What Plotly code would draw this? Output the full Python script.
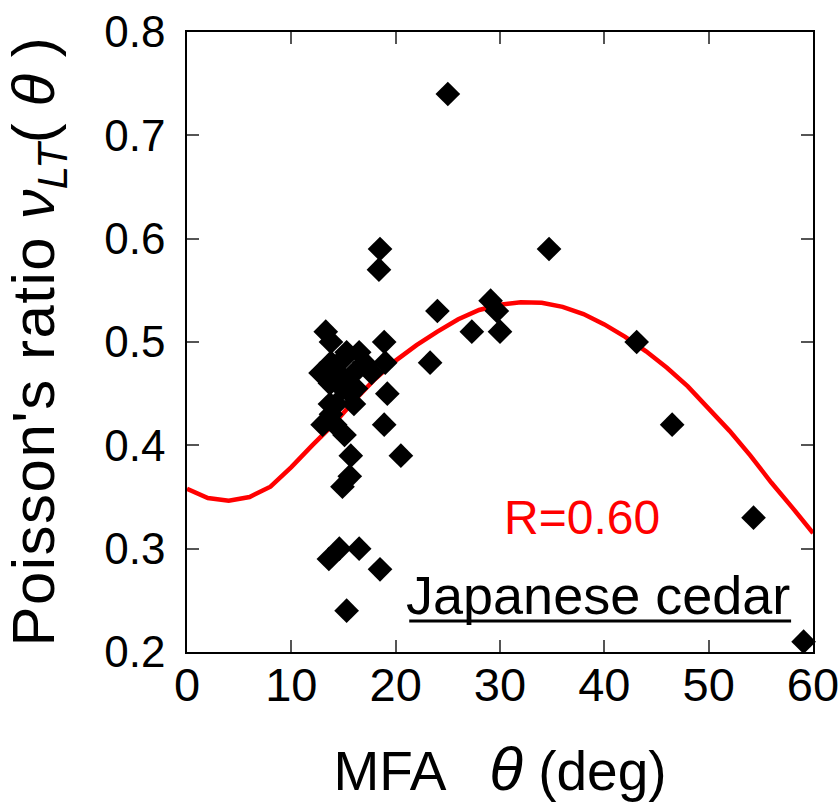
import plotly.graph_objects as go

# Measured points: MFA (deg) and Poisson's ratio
mfa = [25.0, 34.7, 18.5, 18.4, 24.0, 29.1, 29.7, 27.3, 30.0, 23.3,
       43.1, 46.5, 54.3, 59.1, 20.5, 19.2, 18.9, 18.9, 19.0, 18.5,
       16.5, 14.6, 13.6, 15.3,
       13.3, 13.8, 16.5, 17.0, 12.8, 13.8, 15.1, 14.5, 16.0, 15.3,
       15.3, 17.7, 13.7, 14.9, 16.2, 13.7, 14.3, 15.7, 13.0, 13.8,
       15.1, 15.7, 15.6, 14.9, 14.2, 16.0]
nu = [0.74, 0.59, 0.59, 0.57, 0.53, 0.54, 0.53, 0.51, 0.51, 0.48,
      0.50, 0.42, 0.33, 0.21, 0.39, 0.45, 0.42, 0.50, 0.48, 0.28,
      0.30, 0.30, 0.29, 0.24,
      0.51, 0.50, 0.49, 0.48, 0.47, 0.48, 0.485, 0.47, 0.47, 0.46,
      0.49, 0.47, 0.46, 0.455, 0.455, 0.44, 0.44, 0.45, 0.42, 0.43,
      0.41, 0.39, 0.37, 0.36, 0.42, 0.44]

# Fitted curve
curve_x = [0, 2, 4, 6, 8, 10, 12, 14, 16, 18, 20, 22, 24, 26, 28, 30,
           32, 34, 36, 38, 40, 42, 44, 46, 48, 50, 52, 54, 56, 58, 60]
curve_y = [0.358, 0.349, 0.3465, 0.350, 0.360, 0.379, 0.400, 0.420, 0.443,
           0.464, 0.482, 0.497, 0.510, 0.522, 0.531, 0.536, 0.5385, 0.538,
           0.534, 0.527, 0.517, 0.505, 0.491, 0.475, 0.457, 0.436, 0.414,
           0.390, 0.364, 0.340, 0.315]

x_ticks = [0, 10, 20, 30, 40, 50, 60]
y_ticks = [0.2, 0.3, 0.4, 0.5, 0.6, 0.7, 0.8]

# Label placement (data coords)
r_label = dict(x=37.9, y=0.33, text="R=0.60")
species_label = dict(x=39.4, y=0.2555, text="Japanese cedar")
underline_x = [21.3, 57.9]
underline_y = 0.230

FONT = "Liberation Sans, Arial, sans-serif"

fig = go.Figure()
fig.add_trace(go.Scatter(x=curve_x, y=curve_y, mode="lines",
                         line=dict(color="#ff0000", width=4.5),
                         showlegend=False, hoverinfo="skip"))
fig.add_trace(go.Scatter(x=mfa, y=nu, mode="markers",
                         marker=dict(symbol="diamond", size=19, color="black",
                                     line=dict(width=0)),
                         showlegend=False, cliponaxis=False))

fig.add_annotation(x=r_label["x"], y=r_label["y"], xref="x", yref="y", text=r_label["text"],
                   showarrow=False, font=dict(family=FONT, size=48, color="#ff0000"))
fig.add_annotation(x=species_label["x"], y=species_label["y"], xref="x", yref="y",
                   text=species_label["text"],
                   showarrow=False, font=dict(family=FONT, size=54, color="black"))
fig.add_shape(type="line", xref="x", yref="y",
              x0=underline_x[0], x1=underline_x[1], y0=underline_y, y1=underline_y,
              line=dict(color="black", width=3))

axis_common = dict(showgrid=False, zeroline=False, showline=True, linecolor="black",
                   linewidth=1.5, mirror="ticks", ticks="inside", ticklen=12,
                   tickcolor="#555555", tickwidth=1.5, ticklabeloverflow="allow")

fig.update_xaxes(range=[0, 60], tickvals=x_ticks, ticktext=[str(v) for v in x_ticks],
                 tickfont=dict(family=FONT, size=47, color="black"),
                 title=dict(text="MFA   <span style='font-size:62px'><i>θ</i></span> (deg)",
                            font=dict(family=FONT, size=55, color="black"), standoff=46),
                 ticklabelstandoff=-9,
                 **axis_common)
fig.update_yaxes(range=[0.2, 0.8], tickvals=y_ticks, ticktext=[f"{v:.1f}" for v in y_ticks],
                 tickfont=dict(family=FONT, size=44, color="black"),
                 title=dict(text="<span style='letter-spacing:1.5px'>Poisson's ratio</span> "
                                 "<i>ν</i><sub><i>LT</i></sub>( <i>θ</i> )",
                            font=dict(family=FONT, size=60, color="black"), standoff=31),
                 ticklabelstandoff=11,
                 **axis_common)

fig.update_layout(width=838, height=803, plot_bgcolor="white", paper_bgcolor="white",
                  margin=dict(l=187, r=25, t=32, b=151, autoexpand=False))

fig.write_html("out.html", config={"displayModeBar": False},
               post_script="document.body.style.margin='0';document.body.style.overflow='hidden';")
